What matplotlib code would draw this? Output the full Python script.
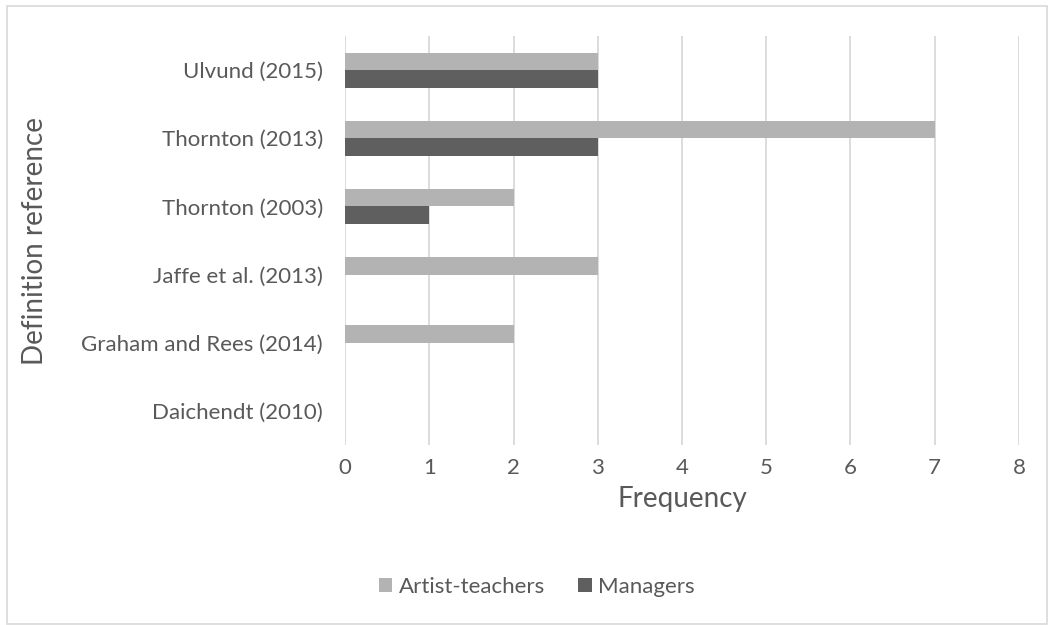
import matplotlib
matplotlib.use("Agg")
import matplotlib.pyplot as plt
import numpy as np
from matplotlib.patches import Rectangle

# Data
references = ["Daichendt (2010)", "Graham and Rees (2014)", "Jaffe et al. (2013)",
              "Thornton (2003)", "Thornton (2013)", "Ulvund (2015)"]
artist_teachers = [0, 2, 3, 2, 7, 3]
managers = [0, 0, 0, 1, 3, 3]
x_ticks = [0, 1, 2, 3, 4, 5, 6, 7, 8]

TEXT = "#595959"
GRID = "#d9d9d9"
C_ART = "#b3b3b3"
C_MGR = "#5f5f5f"

plt.rcParams["font.family"] = ["Lato", "DejaVu Sans"]

fig = plt.figure(figsize=(10.49, 6.25), dpi=100)
fig.patches.append(Rectangle((7 / 1049, 1 / 625), 1040 / 1049, 618 / 625,
                             transform=fig.transFigure, fill=False,
                             edgecolor=GRID, linewidth=1.2))

ax = fig.add_axes([345 / 1049, (625 - 445) / 625, 674 / 1049, 409 / 625])

y = np.arange(len(references))
h = 0.256
ax.barh(y + h / 2, artist_teachers, height=h, color=C_ART, label="Artist-teachers", zorder=3)
ax.barh(y - h / 2, managers, height=h, color=C_MGR, label="Managers", zorder=3)

ax.set_xlim(0, 8)
ax.set_ylim(-0.5, len(references) - 0.5)
ax.set_xticks(x_ticks)
ax.set_yticks(y)
ax.set_yticklabels(references)
ax.grid(axis="x", color=GRID, linewidth=1.3, zorder=0)
ax.grid(axis="y", visible=False)
for s in ax.spines.values():
    s.set_visible(False)
ax.tick_params(axis="both", length=0, labelsize=16, colors=TEXT)
ax.tick_params(axis="y", pad=16)
ax.tick_params(axis="x", pad=9)

ax.set_xlabel("Frequency", fontsize=20, color=TEXT, labelpad=6)
ax.set_ylabel("Definition reference", fontsize=20, color=TEXT)
ax.yaxis.set_label_coords(-0.44, 0.5)

handles, labels = ax.get_legend_handles_labels()
fig.legend(handles, labels, loc="center", bbox_to_anchor=(537 / 1049, 1 - 587 / 625),
           ncol=2, frameon=False, fontsize=16, labelcolor=TEXT,
           handlelength=0.6, handleheight=0.6, handletextpad=0.3, columnspacing=1.5)

fig.savefig("out.png", dpi=100, facecolor="white")
